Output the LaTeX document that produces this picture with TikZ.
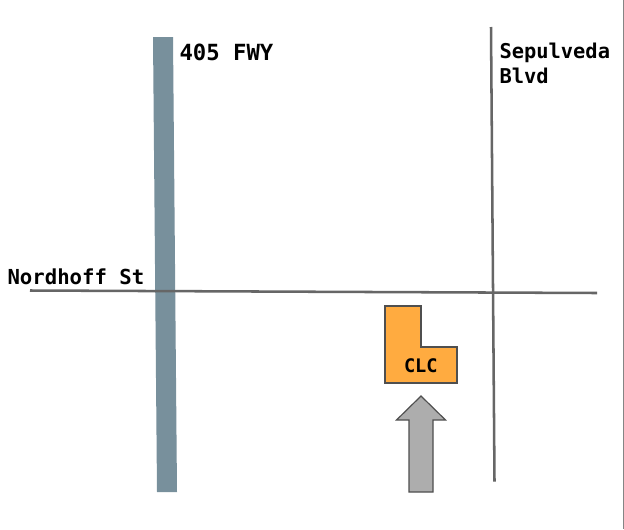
\documentclass[tikz,border=0pt]{standalone}
\usepackage{fontspec}
\setmonofont{DejaVu Sans Mono}
\definecolor{fwy}{HTML}{78909C}
\definecolor{road}{HTML}{666666}
\definecolor{clc}{HTML}{FFAB40}
\definecolor{arrowfill}{HTML}{ADADAD}
\definecolor{edge}{HTML}{4F4F4F}
\tikzset{
  x=0.75pt,y=-0.75pt,
  roadline/.style={draw=road,line width=1.9pt},
  label/.style={inner sep=0pt,outer sep=0pt,anchor=base west,align=left,font=\ttfamily\bfseries},
  shapeline/.style={draw=edge,line width=0.9pt,line join=miter}
}
\begin{document}
\begin{tikzpicture}
\useasboundingbox (0,0) rectangle (624,529);
\fill[white] (0,0) rectangle (624,529);
\draw[draw=road!80!white,line width=0.9pt] (623.3,0) -- (623.3,529);
\fill[fwy] (153,37) -- (173,37) -- (177,492) -- (157,492) -- cycle;
\coordinate (nw) at (30,290.5);
\coordinate (ne) at (597,293);
\coordinate (sn) at (491,27);
\coordinate (ss) at (494.5,481.5);
\draw[roadline] (nw) -- (ne);
\draw[roadline] (sn) -- (ss);
\draw[shapeline,fill=clc] (385,306) -- (421,306) -- (421,347) -- (457,347) -- (457,383) -- (385,383) -- cycle;
\draw[shapeline,fill=arrowfill] (421,396) -- (445.5,420) -- (433,420) -- (433,492) -- (409,492) -- (409,420) -- (396.5,420) -- cycle;
\node[label,font=\ttfamily\bfseries\fontsize{16.7}{20}\selectfont] (fwylabel) at (179.5,60.5) {405 FWY};
\node[label,font=\ttfamily\bfseries\fontsize{15.5}{18}\selectfont] (nordhoff) at (7.5,284) {Nordhoff St};
\node[label,font=\ttfamily\bfseries\fontsize{15.3}{18}\selectfont] (sepulveda) at (499.5,58) {Sepulveda};
\node[label,font=\ttfamily\bfseries\fontsize{15.3}{18}\selectfont] (blvd) at (499.5,83) {Blvd};
\node[label,font=\ttfamily\bfseries\fontsize{14}{16}\selectfont] (clclabel) at (404,372) {CLC};
\end{tikzpicture}
\end{document}
